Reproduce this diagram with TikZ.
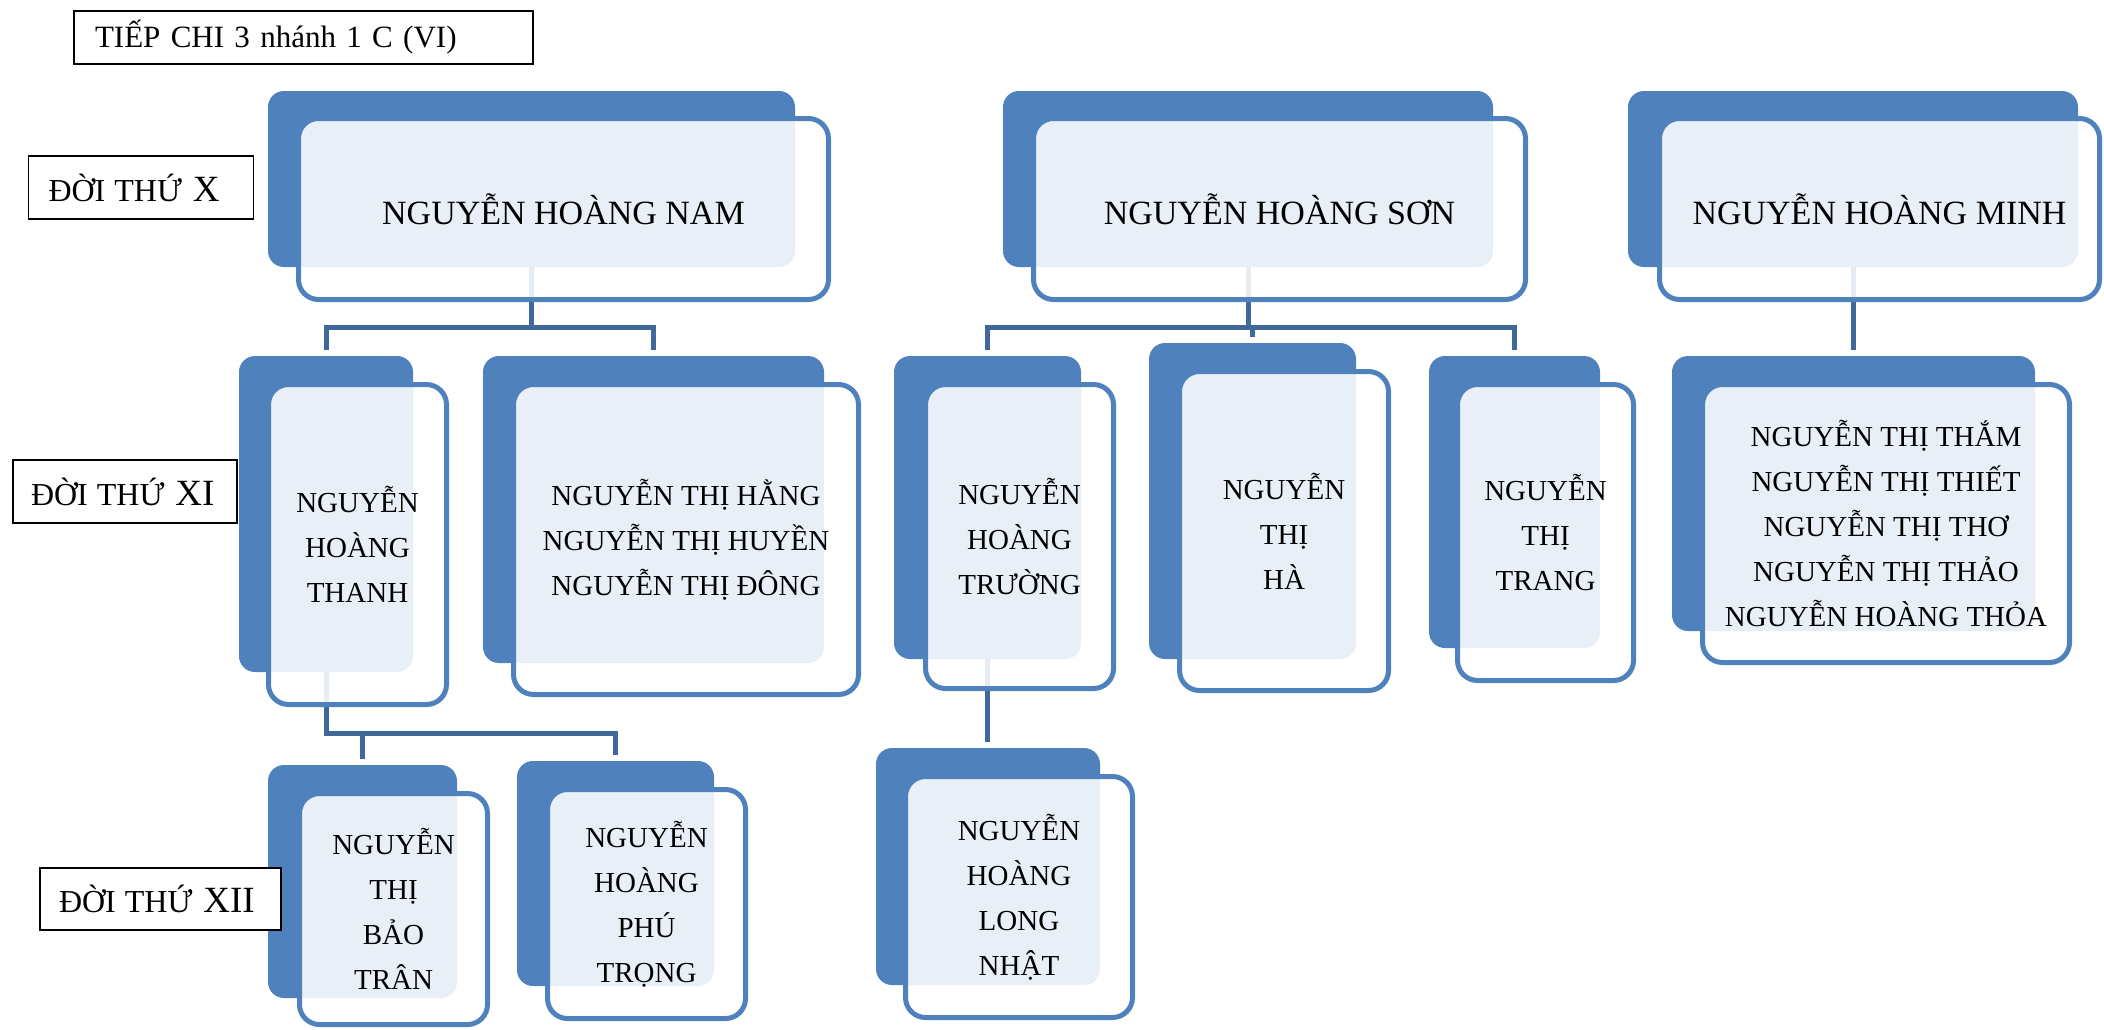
\documentclass[tikz,border=0pt]{standalone}
\usepackage{fontspec}
\setmainfont{Liberation Serif}
\usetikzlibrary{calc}
\definecolor{boxblue}{RGB}{79,129,189}
\definecolor{connblue}{RGB}{64,104,154}
\newcommand\fX{\fontsize{34}{45}\selectfont}
\newcommand\fN{\fontsize{29}{45}\selectfont}
\newcommand\fL{\fontsize{32}{36}\selectfont}
\newcommand\fR{\fontsize{37}{36}\selectfont}
\newcommand\gen[1]{{\fL ĐỜI\hspace{9pt}THỨ\hspace{11pt}\fR #1}}
\begin{document}
\begin{tikzpicture}[x=1pt,y=-1pt,
  back/.style={draw=none, fill=none, rounded corners=16pt, inner sep=0pt, outer sep=0pt},
  front/.style={draw=boxblue, line width=5pt, fill=white, fill opacity=0.88, draw opacity=1, text opacity=1,
    rounded corners=20pt, align=center, inner sep=0pt, font=\fN},
  conn/.style={draw=connblue, line width=5pt},
  lab/.style={draw=black, line width=1.5pt, fill=white, align=left, inner ysep=0pt}]
\useasboundingbox (0,0) rectangle (2104,1029);
\coordinate (barA) at (0,327);
\coordinate (barB) at (0,733);

% back rectangles (positions only, filled after the connectors)
\path
  node[back, minimum width=527pt, minimum height=176pt] (nam) at (531.5,179) {}
  node[back, minimum width=490pt, minimum height=176pt] (son) at (1248,179) {}
  node[back, minimum width=450pt, minimum height=176pt] (minh) at (1853,179) {}
  node[back, minimum width=174pt, minimum height=316pt] (thanh) at (326,514) {}
  node[back, minimum width=341pt, minimum height=307pt] (hang) at (653.5,509.5) {}
  node[back, minimum width=187pt, minimum height=303pt] (truong) at (987.5,507.5) {}
  node[back, minimum width=207pt, minimum height=316pt] (ha) at (1252.5,501) {}
  node[back, minimum width=171pt, minimum height=292pt] (trang) at (1514.5,502) {}
  node[back, minimum width=363pt, minimum height=275pt] (tham) at (1853.5,493.5) {}
  node[back, minimum width=189pt, minimum height=233pt] (tran) at (362.5,881.5) {}
  node[back, minimum width=197pt, minimum height=225pt] (trong) at (615.5,873.5) {}
  node[back, minimum width=224pt, minimum height=237pt] (long) at (988,866.5) {};

% connectors (behind the boxes)
\draw[conn] (nam.center) -- (nam.center |- barA);
\draw[conn] ($(thanh.north)+(0,-6)$) -- (thanh.north |- barA) -- (hang.north |- barA) -- ($(hang.north)+(0,-6)$);
\draw[conn] (son.center) -- (son.center |- barA);
\draw[conn] ($(truong.north)+(0,-6)$) -- (truong.north |- barA) -- (trang.north |- barA) -- ($(trang.north)+(0,-6)$);
\draw[conn] (ha.north |- barA) -- ($(ha.north)+(0,-6)$);
\draw[conn] (minh.center) -- ($(tham.north -| minh.center)+(0,-6)$);
\draw[conn] (thanh.center) -- (thanh.center |- barB) -- (trong.north |- barB) -- ($(trong.north)+(0,-6)$);
\draw[conn] (tran.north |- barB) -- ($(tran.north)+(0,-6)$);
\draw[conn] (truong.center) -- ($(long.north -| truong.center)+(0,-6)$);

% back rectangles filled
\foreach \n in {nam,son,minh,thanh,hang,truong,ha,trang,tham,tran,trong,long}{
  \fill[boxblue, rounded corners=16pt] (\n.north west) rectangle (\n.south east);
}

% front rectangles with text
\node[front, font=\fX, minimum width=530pt, minimum height=181pt] (nam-f) at (563.5,209) {NGUYỄN HOÀNG NAM};
\node[front, font=\fX, minimum width=492pt, minimum height=181pt] (son-f) at (1279.5,209) {NGUYỄN HOÀNG SƠN};
\node[front, font=\fX, minimum width=440pt, minimum height=181pt] (minh-f) at (1879.5,209) {NGUYỄN HOÀNG MINH};
\node[front, minimum width=178pt, minimum height=320pt] (thanh-f) at (357.5,544.5) {NGUYỄN\\HOÀNG\\THANH};
\node[front, minimum width=345pt, minimum height=310pt] (hang-f) at (686,539.5) {NGUYỄN THỊ HẰNG\\NGUYỄN THỊ HUYỀN\\NGUYỄN THỊ ĐÔNG};
\node[front, minimum width=188pt, minimum height=304pt] (truong-f) at (1019.5,536.5) {NGUYỄN\\HOÀNG\\TRƯỜNG};
\node[front, minimum width=209pt, minimum height=319pt] (ha-f) at (1284,531) {NGUYỄN\\THỊ\\HÀ};
\node[front, minimum width=176pt, minimum height=296pt] (trang-f) at (1545.5,532.5) {NGUYỄN\\THỊ\\TRANG};
\node[front, minimum width=367pt, minimum height=278pt] (tham-f) at (1886,523.5) {NGUYỄN THỊ THẮM\\NGUYỄN THỊ THIẾT\\NGUYỄN THỊ THƠ\\NGUYỄN THỊ THẢO\\NGUYỄN HOÀNG THỎA};
\node[front, minimum width=188pt, minimum height=231pt] (tran-f) at (393.5,909) {NGUYỄN\\THỊ\\BẢO\\TRÂN};
\node[front, minimum width=198pt, minimum height=229pt] (trong-f) at (646.5,904) {NGUYỄN\\HOÀNG\\PHÚ\\TRỌNG};
\node[front, minimum width=227pt, minimum height=241pt] (long-f) at (1019,897) {NGUYỄN\\HOÀNG\\LONG\\NHẬT};

% labels
\node[lab, text width=417pt, inner xsep=21pt, minimum height=53pt, font=\fontsize{31}{36}\selectfont] (title) at (303.5,37.5) {TIẾP CHI 3 nhánh 1 C (VI)};
\node[lab, text width=185pt, inner xsep=20pt, minimum height=63pt] (genX) at (141,187.5) {\gen{X}};
\node[lab, text width=188pt, inner xsep=18pt, minimum height=63pt] (genXI) at (125,491.5) {\gen{XI}};
\node[lab, text width=203pt, inner xsep=19pt, minimum height=62pt] (genXII) at (160.5,899) {\gen{XII}};
\end{tikzpicture}
\end{document}
